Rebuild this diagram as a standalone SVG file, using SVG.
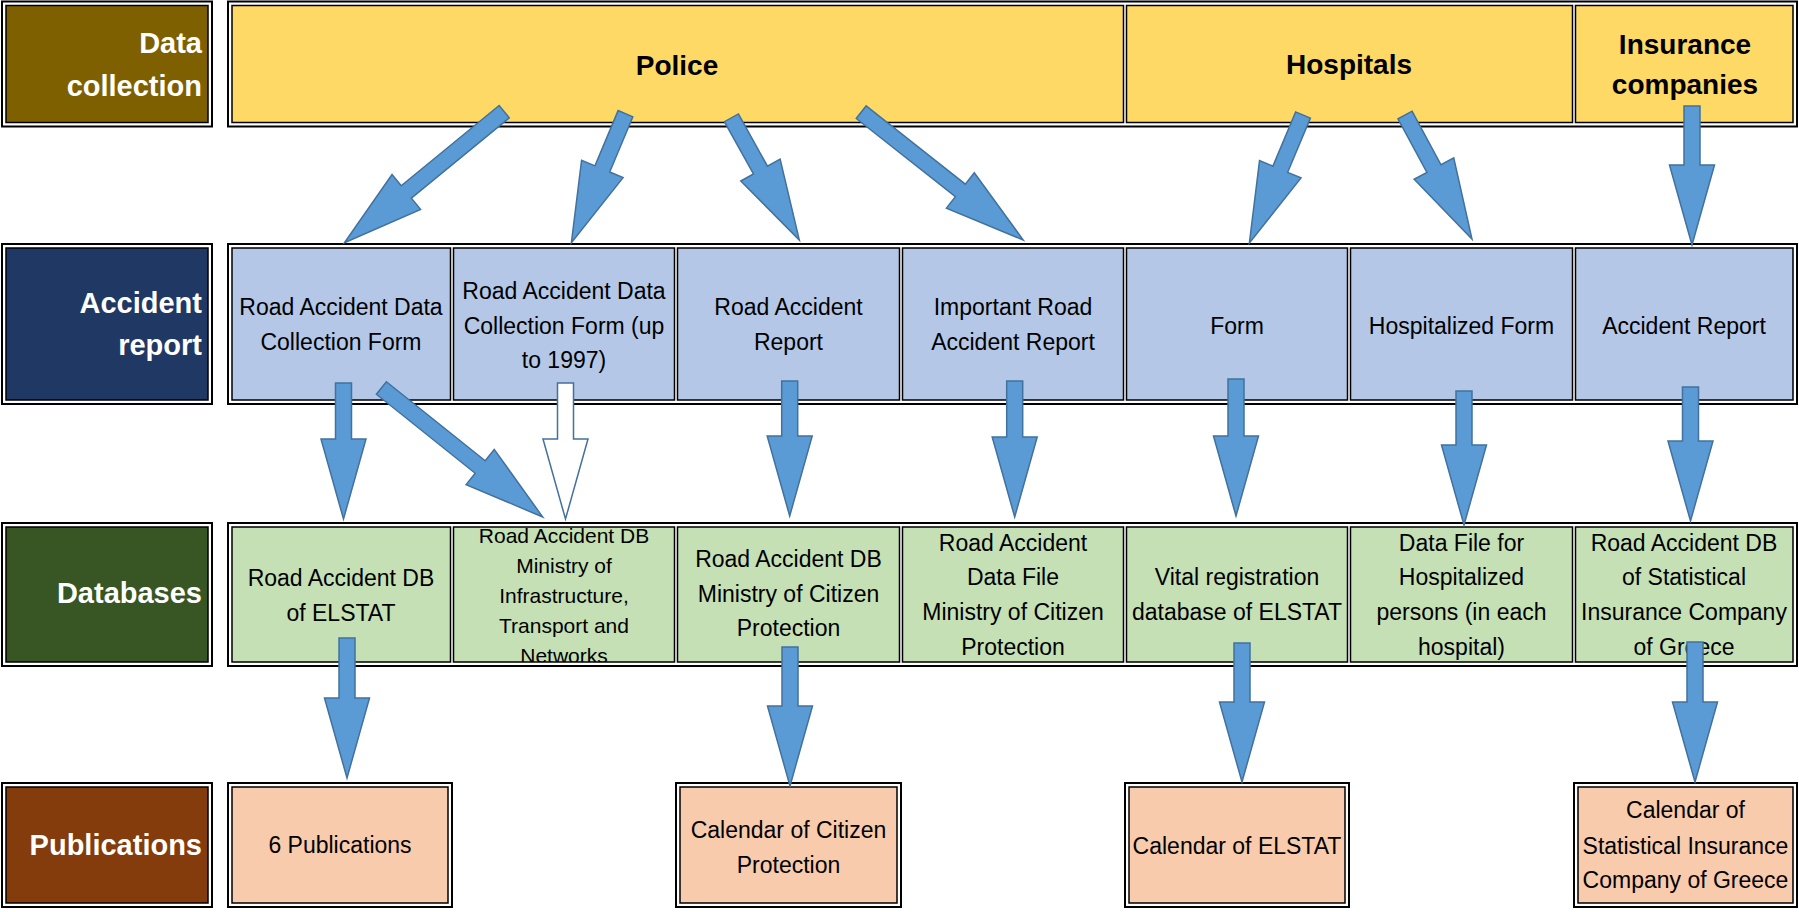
<svg xmlns="http://www.w3.org/2000/svg" width="1799" height="912" viewBox="0 0 1799 912">
<style>
.o{fill:#fff;stroke:#000;stroke-width:2}
.c{stroke:#000;stroke-width:1.5}
.y{fill:#FFD966}.b{fill:#B4C7E7}.g{fill:#C5E0B4}.p{fill:#F8CBAD}
.l1{fill:#7F6000}.l2{fill:#203864}.l3{fill:#375623}.l4{fill:#843C0C}
text{font-family:"Liberation Sans",Arial,sans-serif;fill:#000}
.t{font-size:23px;text-anchor:middle}
.s{font-size:21px;text-anchor:middle}
.h{font-size:28px;font-weight:bold;text-anchor:middle}
.lb{font-size:29px;font-weight:bold;fill:#fff;text-anchor:end}
.ar{fill:#5B9BD5;stroke:#41719C;stroke-width:1.5}
.hol{fill:#fff;stroke:#41719C;stroke-width:1.5}
</style>
<defs>
<clipPath id="clipNet"><rect x="453.5" y="527" width="221" height="135"/></clipPath>
</defs>
<rect x="0" y="0" width="1799" height="912" fill="#fff"/>

<!-- Row labels -->
<g id="label-data-collection">
<rect class="o" x="2" y="1.5" width="210" height="125"/>
<rect class="c l1" x="6" y="5.5" width="202" height="117"/>
<text class="lb" x="202" y="53">Data</text>
<text class="lb" x="202" y="96">collection</text>
</g>
<g id="label-accident-report">
<rect class="o" x="2" y="244" width="210" height="160"/>
<rect class="c l2" x="6" y="248" width="202" height="152"/>
<text class="lb" x="202" y="313">Accident</text>
<text class="lb" x="202" y="355">report</text>
</g>
<g id="label-databases">
<rect class="o" x="2" y="523" width="210" height="143"/>
<rect class="c l3" x="6" y="527" width="202" height="135"/>
<text class="lb" x="202" y="603">Databases</text>
</g>
<g id="label-publications">
<rect class="o" x="2" y="783" width="210" height="124"/>
<rect class="c l4" x="6" y="787" width="202" height="116"/>
<text class="lb" x="202" y="855">Publications</text>
</g>

<!-- Row frames -->
<g id="frames">
<rect class="o" x="228" y="1.5" width="1569" height="125"/>
<rect class="o" x="228" y="244" width="1569" height="160"/>
<rect class="o" x="228" y="523" width="1569" height="143"/>
</g>

<!-- Row 1: data collection sources -->
<g id="src-police">
<rect class="c y" x="232" y="5.5" width="891.5" height="117"/>
<text class="h" x="677" y="75">Police</text>
</g>
<g id="src-hospitals">
<rect class="c y" x="1126.5" y="5.5" width="446" height="117"/>
<text class="h" x="1349" y="74">Hospitals</text>
</g>
<g id="src-insurance">
<rect class="c y" x="1575.5" y="5.5" width="217.5" height="117"/>
<text class="h" x="1685" y="54">Insurance</text>
<text class="h" x="1685" y="94">companies</text>
</g>

<!-- Row 2: accident reports -->
<g id="rep-radcf">
<rect class="c b" x="232" y="248" width="218.5" height="152"/>
<text class="t" x="341" y="315">Road Accident Data</text>
<text class="t" x="341" y="350">Collection Form</text>
</g>
<g id="rep-radcf-1997">
<rect class="c b" x="453.5" y="248" width="221" height="152"/>
<text class="t" x="564" y="299">Road Accident Data</text>
<text class="t" x="564" y="334">Collection Form (up</text>
<text class="t" x="564" y="368">to 1997)</text>
</g>
<g id="rep-rar">
<rect class="c b" x="677.5" y="248" width="222" height="152"/>
<text class="t" x="788.5" y="315">Road Accident</text>
<text class="t" x="788.5" y="350">Report</text>
</g>
<g id="rep-irar">
<rect class="c b" x="902.5" y="248" width="221" height="152"/>
<text class="t" x="1013" y="315">Important Road</text>
<text class="t" x="1013" y="350">Accident Report</text>
</g>
<g id="rep-form">
<rect class="c b" x="1126.5" y="248" width="221" height="152"/>
<text class="t" x="1237" y="334">Form</text>
</g>
<g id="rep-hosp-form">
<rect class="c b" x="1350.5" y="248" width="222" height="152"/>
<text class="t" x="1461.5" y="334">Hospitalized Form</text>
</g>
<g id="rep-accident">
<rect class="c b" x="1575.5" y="248" width="217.5" height="152"/>
<text class="t" x="1684" y="334">Accident Report</text>
</g>

<!-- Row 3: databases -->
<g id="db-elstat">
<rect class="c g" x="232" y="527" width="218.5" height="135"/>
<text class="t" x="341" y="586">Road Accident DB</text>
<text class="t" x="341" y="621">of ELSTAT</text>
</g>
<g id="db-infra">
<rect class="c g" x="453.5" y="527" width="221" height="135"/>
<g clip-path="url(#clipNet)">
<text class="s" x="564" y="543">Road Accident DB</text>
<text class="s" x="564" y="573">Ministry of</text>
<text class="s" x="564" y="603">Infrastructure,</text>
<text class="s" x="564" y="633">Transport and</text>
<text class="s" x="564" y="663">Networks</text>
</g>
</g>
<g id="db-citizen">
<rect class="c g" x="677.5" y="527" width="222" height="135"/>
<text class="t" x="788.5" y="567">Road Accident DB</text>
<text class="t" x="788.5" y="602">Ministry of Citizen</text>
<text class="t" x="788.5" y="636">Protection</text>
</g>
<g id="db-datafile">
<rect class="c g" x="902.5" y="527" width="221" height="135"/>
<text class="t" x="1013" y="551">Road Accident</text>
<text class="t" x="1013" y="585">Data File</text>
<text class="t" x="1013" y="620">Ministry of Citizen</text>
<text class="t" x="1013" y="655">Protection</text>
</g>
<g id="db-vital">
<rect class="c g" x="1126.5" y="527" width="221" height="135"/>
<text class="t" x="1237" y="585">Vital registration</text>
<text class="t" x="1237" y="620">database of ELSTAT</text>
</g>
<g id="db-hospitalized">
<rect class="c g" x="1350.5" y="527" width="222" height="135"/>
<text class="t" x="1461.5" y="551">Data File for</text>
<text class="t" x="1461.5" y="585">Hospitalized</text>
<text class="t" x="1461.5" y="620">persons (in each</text>
<text class="t" x="1461.5" y="655">hospital)</text>
</g>
<g id="db-insurance">
<rect class="c g" x="1575.5" y="527" width="217.5" height="135"/>
<text class="t" x="1684" y="551">Road Accident DB</text>
<text class="t" x="1684" y="585">of Statistical</text>
<text class="t" x="1684" y="620">Insurance Company</text>
<text class="t" x="1684" y="655">of Greece</text>
</g>

<!-- Row 4: publications -->
<g id="pub-six">
<rect class="o" x="228" y="783" width="224" height="124"/>
<rect class="c p" x="232" y="787" width="216" height="116"/>
<text class="t" x="340" y="853">6 Publications</text>
</g>
<g id="pub-citizen">
<rect class="o" x="676" y="783" width="225" height="124"/>
<rect class="c p" x="680" y="787" width="217" height="116"/>
<text class="t" x="788.5" y="838">Calendar of Citizen</text>
<text class="t" x="788.5" y="873">Protection</text>
</g>
<g id="pub-elstat">
<rect class="o" x="1125" y="783" width="224" height="124"/>
<rect class="c p" x="1129" y="787" width="216" height="116"/>
<text class="t" x="1237" y="854">Calendar of ELSTAT</text>
</g>
<g id="pub-insurance">
<rect class="o" x="1574" y="783" width="223" height="124"/>
<rect class="c p" x="1578" y="787" width="215" height="116"/>
<text class="t" x="1685.5" y="818">Calendar of</text>
<text class="t" x="1685.5" y="854">Statistical Insurance</text>
<text class="t" x="1685.5" y="888">Company of Greece</text>
</g>

<!-- Connectors -->
<g id="connectors">
<path class="ar" transform="translate(504.2,111.7) rotate(140.65)" d="M0,-8H126.6V-22.5L206.6,0L126.6,22.5V8H0Z"/>
<path class="ar" transform="translate(625.5,113.7) rotate(112.75)" d="M0,-8H59.9V-22.5L139.9,0L59.9,22.5V8H0Z"/>
<path class="ar" transform="translate(731.4,117.8) rotate(60.94)" d="M0,-8H59.8V-22.5L139.8,0L59.8,22.5V8H0Z"/>
<path class="ar" transform="translate(861.2,112.2) rotate(38.27)" d="M0,-8H126.3V-22.5L206.3,0L126.3,22.5V8H0Z"/>
<path class="ar" transform="translate(1303,115) rotate(112.72)" d="M0,-8H58.8V-22.5L138.8,0L58.8,22.5V8H0Z"/>
<path class="ar" transform="translate(1405,115) rotate(61.62)" d="M0,-8H60.9V-22.5L140.9,0L60.9,22.5V8H0Z"/>
<path class="ar" transform="translate(1692,106) rotate(90)" d="M0,-8H59V-22.5L139,0L59,22.5V8H0Z"/>

<path class="ar" transform="translate(343.5,383) rotate(90)" d="M0,-8H56V-22.5L136,0L56,22.5V8H0Z"/>
<path class="ar" transform="translate(381.4,388) rotate(38.65)" d="M0,-8H126.5V-22.5L206.5,0L126.5,22.5V8H0Z"/>
<path class="hol" transform="translate(565.5,383) rotate(90)" d="M0,-8H56V-22.5L136,0L56,22.5V8H0Z"/>
<path class="ar" transform="translate(789.7,381) rotate(90)" d="M0,-8H55V-22.5L135,0L55,22.5V8H0Z"/>
<path class="ar" transform="translate(1014.7,381) rotate(90)" d="M0,-8H56V-22.5L136,0L56,22.5V8H0Z"/>
<path class="ar" transform="translate(1236,379) rotate(90)" d="M0,-8H57V-22.5L137,0L57,22.5V8H0Z"/>
<path class="ar" transform="translate(1464,391) rotate(90)" d="M0,-8H54V-22.5L134,0L54,22.5V8H0Z"/>
<path class="ar" transform="translate(1690.5,387) rotate(90)" d="M0,-8H54V-22.5L134,0L54,22.5V8H0Z"/>

<path class="ar" transform="translate(347,638) rotate(90)" d="M0,-8H60V-22.5L140,0L60,22.5V8H0Z"/>
<path class="ar" transform="translate(790,647) rotate(90)" d="M0,-8H59V-22.5L139,0L59,22.5V8H0Z"/>
<path class="ar" transform="translate(1242,643) rotate(90)" d="M0,-8H59V-22.5L139,0L59,22.5V8H0Z"/>
<path class="ar" transform="translate(1695,642) rotate(90)" d="M0,-8H60V-22.5L140,0L60,22.5V8H0Z"/>
</g>
</svg>
